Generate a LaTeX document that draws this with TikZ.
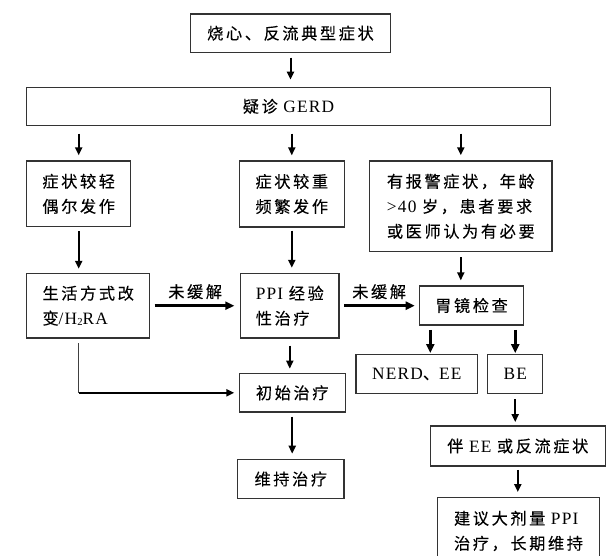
\documentclass[tikz,border=0pt]{standalone}
\usepackage{fontspec}
\setmainfont[Scale=1.07,LetterSpace=7]{Liberation Serif}
\newfontfamily\cjk[LetterSpace=16,FakeBold=0.2]{Noto Sans CJK SC}
\usetikzlibrary{arrows.meta,calc}
\newcommand\zh[1]{{\cjk #1}}
\tikzset{
  box/.style={draw=black!80, line width=1.2pt, inner sep=0pt, align=left,
    font=\fontsize{16.2}{25}\selectfont},
  arr/.style={-{Triangle[length=8pt,width=7pt]}, line width=2pt},
  tarr/.style={-{Triangle[length=9pt,width=8pt]}, line width=3pt},
  thinline/.style={line width=1.2pt, draw=black!75},
  lbl/.style={font=\fontsize{16.2}{20}\selectfont, inner sep=0pt}
}
\begin{document}
\begin{tikzpicture}[x=1pt,y=-1pt]
\useasboundingbox (0,0) rectangle (607,556);
\clip (0,0) rectangle (607,556);
\fill[white] (0,0) rectangle (607,556);

\node[box, minimum width=199.6pt, minimum height=38.3pt] (b1) at (290.5,33.2) {\zh{烧心、反流典型症状}};
\node[box, minimum width=523.6pt, minimum height=38pt] (gerd) at (288.5,106.3) {\zh{疑诊} GERD};
\node[box, minimum width=104pt, minimum height=65.7pt] (light) at (78.7,193.8) {\zh{症状较轻}\\\zh{偶尔发作}};
\node[box, minimum width=105pt, minimum height=66pt] (heavy) at (291.8,194) {\zh{症状较重}\\\zh{频繁发作}};
\node[box, minimum width=182.3pt, minimum height=90.7pt] (alarm) at (460.8,206.3) {\zh{有报警症状，年龄}\\>40 \zh{岁，患者要求}\\\zh{或医师认为有必要}};
\node[box, minimum width=123pt, minimum height=64.7pt] (life) at (88.2,305.7) {\zh{生活方式改}\\\zh{变}/H\raisebox{-1pt}{\fontsize{10}{10}\selectfont 2}RA};
\node[box, minimum width=98.3pt, minimum height=64.7pt] (ppi) at (289.8,305.7) {PPI \zh{经验}\\\zh{性治疗}};
\node[box, minimum width=104.4pt, minimum height=39pt] (endo) at (471.5,305.5) {\zh{胃镜检查}};
\node[box, minimum width=106pt, minimum height=38.3pt] (init) at (292.2,392.8) {\zh{初始治疗}};
\node[box, minimum width=106.3pt, minimum height=39.4pt] (maint) at (290.8,479) {\zh{维持治疗}};
\node[box, minimum width=121.7pt, minimum height=39.4pt] (nerd) at (416.8,374) {NERD\zh{、}EE};
\node[box, minimum width=55pt, minimum height=39.4pt] (be) at (515.2,374) {BE};
\node[box, minimum width=175pt, minimum height=40pt] (ee) at (517.8,446) {\zh{伴} EE \zh{或反流症状}};
\node[box, minimum width=161.6pt, minimum height=66.6pt] (advice) at (518.5,531) {\zh{建议大剂量} PPI\\\zh{治疗，长期维持}};

\draw[arr, shorten <=4.7pt, shorten >=7pt] (b1.south) -- (b1.south |- gerd.north);
\draw[arr, shorten <=7.7pt, shorten >=5pt] (light.north |- gerd.south) -- (light.north);
\draw[arr, shorten <=7.7pt, shorten >=5pt] (heavy.north |- gerd.south) -- (heavy.north);
\draw[arr, shorten <=7.7pt, shorten >=5pt] (alarm.north |- gerd.south) -- (alarm.north);
\draw[arr, shorten <=4pt, shorten >=4pt] (light.south) -- (light.south |- life.north);
\draw[arr, shorten <=3pt, shorten >=5pt] (heavy.south) -- (heavy.south |- ppi.north);
\draw[arr, shorten <=5pt, shorten >=5pt] (alarm.south) -- (alarm.south |- endo.north);
\draw[tarr, shorten <=4.3pt, shorten >=5.7pt] (life.east) -- (ppi.west)
  node[midway, lbl, yshift=14pt] {\zh{未缓解}};
\draw[tarr, shorten <=4.7pt, shorten >=4pt] (ppi.east) -- (ppi.east -| endo.west)
  node[midway, lbl, yshift=14pt] {\zh{未缓解}};
\draw[arr, shorten <=7pt, shorten >=4.4pt] (ppi.south) -- (ppi.south |- init.north);
\coordinate (lcorner) at (light.south |- init.west);
\draw[thinline] ($(light.south |- life.south)+(0,4.7)$) -- (lcorner);
\draw[arr, line width=2.5pt, shorten >=4.3pt] (lcorner) -- (init.west);
\draw[arr, shorten <=4pt, shorten >=5pt] (init.south) -- (init.south |- maint.north);
\coordinate (e1) at ($(endo.south)+(-41.2,0)$);
\draw[tarr, shorten <=4.3pt, shorten >=0.6pt] (e1) -- (e1 |- nerd.north);
\draw[tarr, shorten <=4.3pt, shorten >=0.6pt] (be.north |- endo.south) -- (be.north);
\draw[arr, shorten <=5pt, shorten >=3.3pt] (be.south) -- (be.south |- ee.north);
\draw[arr, shorten <=3.3pt, shorten >=5pt] (ee.south) -- (ee.south |- advice.north);
\end{tikzpicture}
\end{document}
